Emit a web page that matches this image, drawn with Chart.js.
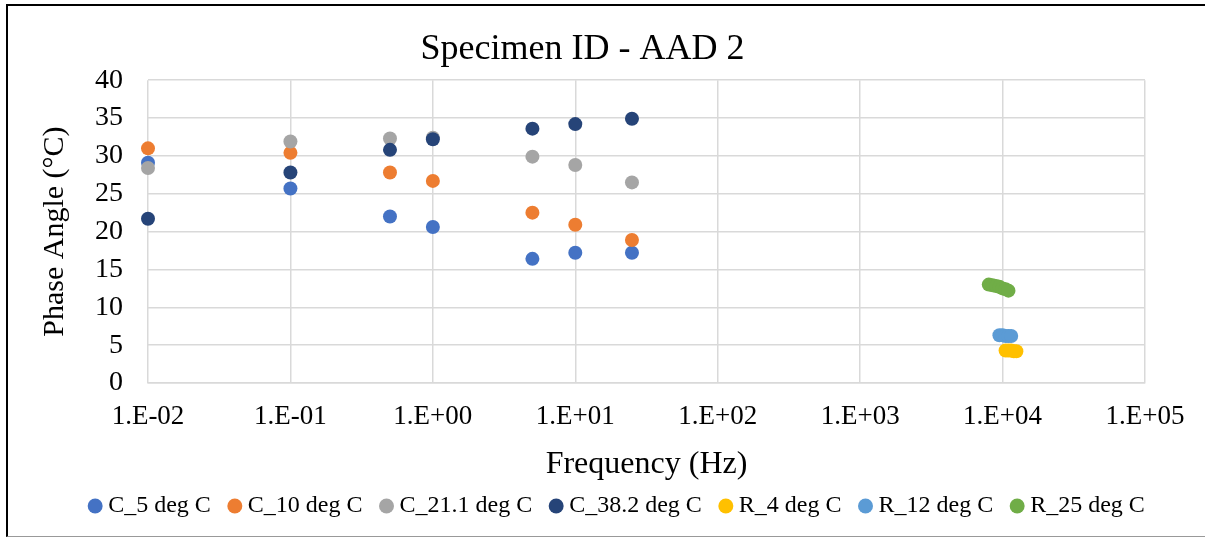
<!DOCTYPE html>
<html>
<head>
<meta charset="utf-8">
<title>Specimen ID - AAD 2</title>
<script src="https://cdn.jsdelivr.net/npm/chart.js@4/dist/chart.umd.min.js"></script>
<style>
	html, body { margin: 0; padding: 0; background: #fff; }
	#marco { position: relative; width: 1207px; height: 542px; overflow: hidden; }
	#borde {
		position: absolute; left: 6px; top: 4px; width: 1197px; height: 530px;
		border-left: 2px solid #000; border-top: 2px solid #000; border-bottom: 1px solid #999;
		pointer-events: none;
	}
	canvas { position: absolute; left: 0; top: 0; }
</style>
</head>
<body>
<div id="marco">
	<canvas id="graficaFase" width="1207" height="542"></canvas>
	<div id="borde"></div>
</div>
<script>
// Frecuencias (Hz) de los ensayos C
const frecC = [0.01, 0.1, 0.5, 1, 5, 10, 25];
const c5 = [29.1, 25.7, 22.0, 20.6, 16.4, 17.2, 17.2];
const c10 = [31.0, 30.4, 27.8, 26.7, 22.5, 20.9, 18.9];
const c21 = [28.4, 31.9, 32.3, 32.4, 29.9, 28.8, 26.5];
const c38 = [21.7, 27.8, 30.8, 32.2, 33.6, 34.2, 34.9];

// Ensayos R, alrededor de 1e4 Hz
const frecR4 = [10500, 11000, 11500, 12000, 12500];
const r4 = [4.3, 4.3, 4.3, 4.2, 4.2];
const frecR12 = [9500, 10000, 10500, 11000, 11500];
const r12 = [6.3, 6.3, 6.2, 6.2, 6.2];
const frecR25 = [8000, 8500, 9000, 9500, 10000, 10500, 11000];
const r25 = [13.0, 12.9, 12.8, 12.7, 12.5, 12.4, 12.2];

const series = ['C_5 deg C', 'C_10 deg C', 'C_21.1 deg C', 'C_38.2 deg C', 'R_4 deg C', 'R_12 deg C', 'R_25 deg C'];
const colores = ['#4472C4', '#ED7D31', '#A5A5A5', '#264478', '#FFC000', '#5B9BD5', '#70AD47'];

const ticksFrec = [1e-2, 1e-1, 1e0, 1e1, 1e2, 1e3, 1e4, 1e5];
const etiquetasFrec = ['1.E-02', '1.E-01', '1.E+00', '1.E+01', '1.E+02', '1.E+03', '1.E+04', '1.E+05'];

const fuente = "'Liberation Serif', 'Times New Roman', serif";

function puntos(xs, ys) {
	let salida = new Array();
	for (let i = 0; i < xs.length; i++) {
		salida.push({ x: xs[i], y: ys[i] });
	}
	return salida;
}

const datos = [
	puntos(frecC, c5),
	puntos(frecC, c10),
	puntos(frecC, c21),
	puntos(frecC, c38),
	puntos(frecR4, r4),
	puntos(frecR12, r12),
	puntos(frecR25, r25)
];

let datasets = [];
for (let i = 0; i < series.length; i++) {
	datasets.push({
		label: series[i],
		data: datos[i],
		backgroundColor: colores[i],
		borderColor: colores[i],
		borderWidth: 0,
		pointRadius: 7,
		pointHoverRadius: 7,
		clip: false,
		// las últimas series se pintan encima
		order: series.length - i
	});
}

// mueve la leyenda hacia la derecha
const moverLeyenda = {
	id: 'moverLeyenda',
	afterLayout(chart) {
		chart.legend.left += 37;
		chart.legend.right += 37;
	}
};

new Chart(document.getElementById('graficaFase'), {
	type: 'scatter',
	data: { datasets: datasets },
	plugins: [moverLeyenda],
	options: {
		responsive: false,
		animation: false,
		layout: { padding: { top: 28, left: 20, right: 62, bottom: 14 } },
		plugins: {
			tooltip: { enabled: false },
			title: {
				display: true,
				text: 'Specimen ID - AAD 2',
				color: '#000',
				font: { family: fuente, size: 36, weight: 'normal', lineHeight: 1.2 },
				padding: { top: 0, bottom: 9 }
			},
			legend: {
				position: 'bottom',
				labels: {
					usePointStyle: true,
					pointStyle: 'circle',
					boxWidth: 2,
					boxHeight: 10.6,
					padding: 23,
					color: '#000',
					font: { family: fuente, size: 24 },
					sort: (a, b) => a.datasetIndex - b.datasetIndex
				}
			}
		},
		scales: {
			x: {
				type: 'logarithmic',
				min: 1e-2,
				max: 1e5,
				afterBuildTicks: (eje) => {
					eje.ticks = ticksFrec.map(v => ({ value: v }));
				},
				afterFit: (eje) => { eje.height = 88; },
				ticks: {
					autoSkip: false,
					maxRotation: 0,
					padding: 18,
					color: '#000',
					font: { family: fuente, size: 27 },
					callback: (valor) => {
						let idx = ticksFrec.indexOf(valor);
						return idx >= 0 ? etiquetasFrec[idx] : '';
					}
				},
				grid: { color: '#D9D9D9', lineWidth: 1.5, drawTicks: false },
				border: { color: '#D9D9D9', width: 1.5 },
				title: {
					display: true,
					text: 'Frequency (Hz)',
					color: '#000',
					font: { family: fuente, size: 32, lineHeight: 1.2 },
					padding: { top: 0, bottom: -13 }
				}
			},
			y: {
				min: 0,
				max: 40,
				afterFit: (eje) => { eje.width = 128; },
				ticks: {
					stepSize: 5,
					padding: 25,
					color: '#000',
					font: { family: fuente, size: 28 }
				},
				grid: { color: '#D9D9D9', lineWidth: 1.5, drawTicks: false },
				border: { display: false },
				title: {
					display: true,
					text: 'Phase Angle (°C)',
					color: '#000',
					font: { family: fuente, size: 30, lineHeight: 1.2 },
					padding: { top: 17, bottom: 0 }
				}
			}
		}
	}
});
</script>
</body>
</html>
